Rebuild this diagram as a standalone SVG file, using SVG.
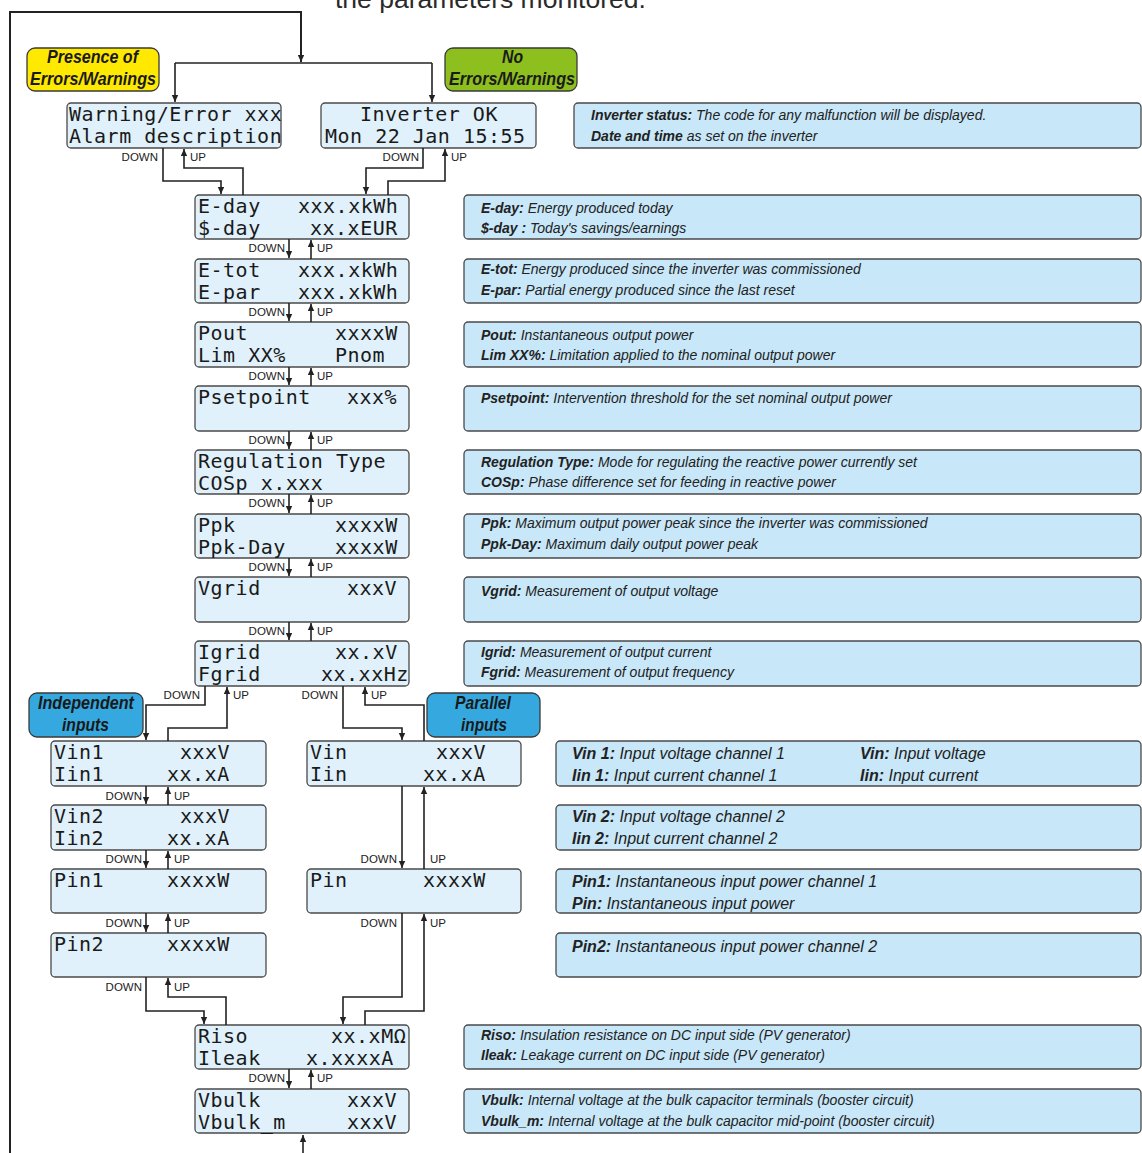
<svg xmlns="http://www.w3.org/2000/svg" width="1142" height="1153" viewBox="0 0 1142 1153">
<defs>
<style>
.lcd{fill:#e0f1fb;stroke:#4a4a4a;stroke-width:1.3}
.desc{fill:#c8e7f8;stroke:#4a4a4a;stroke-width:1.3}
.t{font-family:"DejaVu Sans Mono","Liberation Mono",monospace;font-size:20px;letter-spacing:0.5px;fill:#1a1a1a}
.d{font-family:"Liberation Sans",Arial,sans-serif;font-size:14px;font-style:italic;fill:#222}
.d2{font-family:"Liberation Sans",Arial,sans-serif;font-size:16px;font-style:italic;fill:#222}
.b{font-weight:bold}
.nav{font-family:"Liberation Sans",Arial,sans-serif;font-size:11.5px;fill:#222}
.lbl{font-family:"Liberation Sans",Arial,sans-serif;font-size:19px;font-weight:bold;font-style:italic;fill:#1a1a1a}
.c{fill:none;stroke:#222;stroke-width:1.6}
.ca{fill:none;stroke:#222;stroke-width:1.6;marker-end:url(#ah)}
</style>
<marker id="ah" markerWidth="8" markerHeight="8" refX="7" refY="4" orient="auto" markerUnits="userSpaceOnUse"><path d="M0,0.8 L7,4 L0,7.2 Z" fill="#222"/></marker>
</defs>
<rect width="1142" height="1153" fill="#ffffff"/>
<text x="335" y="8" style="font-family:'Liberation Sans',Arial,sans-serif;font-size:26.5px;fill:#2a2a2a">the parameters monitored.</text>

<!-- labels -->
<g id="lbl-errors">
<rect x="27" y="48" width="132" height="43" rx="8" fill="#ffe900" stroke="#3a3a3a" stroke-width="1.3"/>
<text class="lbl" x="47" y="63" textLength="91" lengthAdjust="spacingAndGlyphs">Presence of</text>
<text class="lbl" x="30" y="85" textLength="126" lengthAdjust="spacingAndGlyphs">Errors/Warnings</text>
</g>
<g id="lbl-noerrors">
<rect x="445" y="48" width="132" height="43" rx="8" fill="#8dbf1f" stroke="#3a3a3a" stroke-width="1.3"/>
<text class="lbl" x="502" y="63" textLength="21" lengthAdjust="spacingAndGlyphs">No</text>
<text class="lbl" x="449" y="85" textLength="126" lengthAdjust="spacingAndGlyphs">Errors/Warnings</text>
</g>
<g id="lbl-independent">
<rect x="29" y="693" width="114" height="44" rx="8" fill="#35a8e0" stroke="#3a3a3a" stroke-width="1.3"/>
<text class="lbl" x="38" y="709" textLength="96" lengthAdjust="spacingAndGlyphs">Independent</text>
<text class="lbl" x="62" y="731" textLength="47" lengthAdjust="spacingAndGlyphs">inputs</text>
</g>
<g id="lbl-parallel">
<rect x="427" y="693" width="113" height="44" rx="8" fill="#35a8e0" stroke="#3a3a3a" stroke-width="1.3"/>
<text class="lbl" x="455" y="709" textLength="56" lengthAdjust="spacingAndGlyphs">Parallel</text>
<text class="lbl" x="461" y="731" textLength="46" lengthAdjust="spacingAndGlyphs">inputs</text>
</g>

<!-- LCD nodes -->
<g id="n-warning">
<rect class="lcd" x="67" y="103" width="214" height="45" rx="4"/>
<text class="t" x="69" y="121">Warning/Error xxx</text>
<text class="t" x="69" y="143">Alarm description</text>
</g>
<g id="n-inverter">
<rect class="lcd" x="321" y="103" width="215" height="45" rx="4"/>
<text class="t" x="360" y="121">Inverter OK</text>
<text class="t" x="325" y="143">Mon 22 Jan 15:55</text>
</g>
<g id="n-eday">
<rect class="lcd" x="195" y="195" width="214" height="44" rx="4"/>
<text class="t" x="198" y="212.5">E-day</text><text class="t" x="298" y="212.5">xxx.xkWh</text>
<text class="t" x="198" y="234.5">$-day</text><text class="t" x="310" y="234.5">xx.xEUR</text>
</g>
<g id="n-etot">
<rect class="lcd" x="195" y="259" width="214" height="44" rx="4"/>
<text class="t" x="198" y="276.5">E-tot</text><text class="t" x="298" y="276.5">xxx.xkWh</text>
<text class="t" x="198" y="298.5">E-par</text><text class="t" x="298" y="298.5">xxx.xkWh</text>
</g>
<g id="n-pout">
<rect class="lcd" x="195" y="322" width="214" height="45" rx="4"/>
<text class="t" x="198" y="339.5">Pout</text><text class="t" x="335" y="339.5">xxxxW</text>
<text class="t" x="198" y="361.5">Lim XX%</text><text class="t" x="335" y="361.5">Pnom</text>
</g>
<g id="n-psetpoint">
<rect class="lcd" x="195" y="386" width="214" height="45" rx="4"/>
<text class="t" x="198" y="403.5">Psetpoint</text><text class="t" x="347" y="403.5">xxx%</text>
</g>
<g id="n-regulation">
<rect class="lcd" x="195" y="450" width="214" height="44" rx="4"/>
<text class="t" x="198" y="467.5">Regulation Type</text>
<text class="t" x="198" y="489.5">COSp x.xxx</text>
</g>
<g id="n-ppk">
<rect class="lcd" x="195" y="514" width="214" height="44" rx="4"/>
<text class="t" x="198" y="531.5">Ppk</text><text class="t" x="335" y="531.5">xxxxW</text>
<text class="t" x="198" y="553.5">Ppk-Day</text><text class="t" x="335" y="553.5">xxxxW</text>
</g>
<g id="n-vgrid">
<rect class="lcd" x="195" y="577" width="214" height="45" rx="4"/>
<text class="t" x="198" y="594.5">Vgrid</text><text class="t" x="347" y="594.5">xxxV</text>
</g>
<g id="n-igrid">
<rect class="lcd" x="195" y="641" width="214" height="45" rx="4"/>
<text class="t" x="198" y="658.5">Igrid</text><text class="t" x="335" y="658.5">xx.xV</text>
<text class="t" x="198" y="680.5">Fgrid</text><text class="t" x="321" y="680.5">xx.xxHz</text>
</g>
<g id="n-vin1">
<rect class="lcd" x="51" y="741" width="215" height="45" rx="4"/>
<text class="t" x="54" y="758.5">Vin1</text><text class="t" x="180" y="758.5">xxxV</text>
<text class="t" x="54" y="780.5">Iin1</text><text class="t" x="167" y="780.5">xx.xA</text>
</g>
<g id="n-vin2">
<rect class="lcd" x="51" y="805" width="215" height="45" rx="4"/>
<text class="t" x="54" y="822.5">Vin2</text><text class="t" x="180" y="822.5">xxxV</text>
<text class="t" x="54" y="844.5">Iin2</text><text class="t" x="167" y="844.5">xx.xA</text>
</g>
<g id="n-pin1">
<rect class="lcd" x="51" y="869" width="215" height="44" rx="4"/>
<text class="t" x="54" y="886.5">Pin1</text><text class="t" x="167" y="886.5">xxxxW</text>
</g>
<g id="n-pin2">
<rect class="lcd" x="51" y="933" width="215" height="44" rx="4"/>
<text class="t" x="54" y="950.5">Pin2</text><text class="t" x="167" y="950.5">xxxxW</text>
</g>
<g id="n-vin">
<rect class="lcd" x="307" y="741" width="214" height="45" rx="4"/>
<text class="t" x="310" y="758.5">Vin</text><text class="t" x="436" y="758.5">xxxV</text>
<text class="t" x="310" y="780.5">Iin</text><text class="t" x="423" y="780.5">xx.xA</text>
</g>
<g id="n-pin">
<rect class="lcd" x="307" y="869" width="214" height="44" rx="4"/>
<text class="t" x="310" y="886.5">Pin</text><text class="t" x="423" y="886.5">xxxxW</text>
</g>
<g id="n-riso">
<rect class="lcd" x="195" y="1025" width="214" height="44" rx="4"/>
<text class="t" x="198" y="1042.5">Riso</text><text class="t" x="331" y="1042.5">xx.xMΩ</text>
<text class="t" x="198" y="1064.5">Ileak</text><text class="t" x="306" y="1064.5">x.xxxxA</text>
</g>
<g id="n-vbulk">
<rect class="lcd" x="195" y="1089" width="214" height="44" rx="4"/>
<text class="t" x="198" y="1106.5">Vbulk</text><text class="t" x="347" y="1106.5">xxxV</text>
<text class="t" x="198" y="1128.5">Vbulk_m</text><text class="t" x="347" y="1128.5">xxxV</text>
</g>

<!-- description nodes -->
<g id="d-status">
<rect class="desc" x="574" y="103" width="567" height="45" rx="4"/>
<text class="d" x="591" y="120"><tspan class="b">Inverter status:</tspan> The code for any malfunction will be displayed.</text>
<text class="d" x="591" y="141"><tspan class="b">Date and time</tspan> as set on the inverter</text>
</g>
<g id="d-eday">
<rect class="desc" x="464" y="195" width="677" height="44" rx="4"/>
<text class="d" x="481" y="213"><tspan class="b">E-day:</tspan> Energy produced today</text>
<text class="d" x="481" y="233"><tspan class="b">$-day :</tspan> Today's savings/earnings</text>
</g>
<g id="d-etot">
<rect class="desc" x="464" y="259" width="677" height="44" rx="4"/>
<text class="d" x="481" y="274"><tspan class="b">E-tot:</tspan> Energy produced since the inverter was commissioned</text>
<text class="d" x="481" y="295"><tspan class="b">E-par:</tspan> Partial energy produced since the last reset</text>
</g>
<g id="d-pout">
<rect class="desc" x="464" y="322" width="677" height="45" rx="4"/>
<text class="d" x="481" y="340"><tspan class="b">Pout:</tspan> Instantaneous output power</text>
<text class="d" x="481" y="360"><tspan class="b">Lim XX%:</tspan> Limitation applied to the nominal output power</text>
</g>
<g id="d-psetpoint">
<rect class="desc" x="464" y="386" width="677" height="45" rx="4"/>
<text class="d" x="481" y="403"><tspan class="b">Psetpoint:</tspan> Intervention threshold for the set nominal output power</text>
</g>
<g id="d-regulation">
<rect class="desc" x="464" y="450" width="677" height="44" rx="4"/>
<text class="d" x="481" y="467"><tspan class="b">Regulation Type:</tspan> Mode for regulating the reactive power currently set</text>
<text class="d" x="481" y="487"><tspan class="b">COSp:</tspan> Phase difference set for feeding in reactive power</text>
</g>
<g id="d-ppk">
<rect class="desc" x="464" y="514" width="677" height="44" rx="4"/>
<text class="d" x="481" y="528"><tspan class="b">Ppk:</tspan> Maximum output power peak since the inverter was commissioned</text>
<text class="d" x="481" y="549"><tspan class="b">Ppk-Day:</tspan> Maximum daily output power peak</text>
</g>
<g id="d-vgrid">
<rect class="desc" x="464" y="577" width="677" height="45" rx="4"/>
<text class="d" x="481" y="596"><tspan class="b">Vgrid:</tspan> Measurement of output voltage</text>
</g>
<g id="d-igrid">
<rect class="desc" x="464" y="641" width="677" height="45" rx="4"/>
<text class="d" x="481" y="657"><tspan class="b">Igrid:</tspan> Measurement of output current</text>
<text class="d" x="481" y="677"><tspan class="b">Fgrid:</tspan> Measurement of output frequency</text>
</g>
<g id="d-vin">
<rect class="desc" x="556" y="741" width="585" height="45" rx="4"/>
<text class="d2" x="572" y="759"><tspan class="b">Vin 1:</tspan> Input voltage channel 1</text>
<text class="d2" x="572" y="781"><tspan class="b">Iin 1:</tspan> Input current channel 1</text>
<text class="d2" x="860" y="759"><tspan class="b">Vin:</tspan> Input voltage</text>
<text class="d2" x="860" y="781"><tspan class="b">Iin:</tspan> Input current</text>
</g>
<g id="d-vin2">
<rect class="desc" x="556" y="805" width="585" height="45" rx="4"/>
<text class="d2" x="572" y="822"><tspan class="b">Vin 2:</tspan> Input voltage channel 2</text>
<text class="d2" x="572" y="844"><tspan class="b">Iin 2:</tspan> Input current channel 2</text>
</g>
<g id="d-pin1">
<rect class="desc" x="556" y="869" width="585" height="44" rx="4"/>
<text class="d2" x="572" y="887"><tspan class="b">Pin1:</tspan> Instantaneous input power channel 1</text>
<text class="d2" x="572" y="909"><tspan class="b">Pin:</tspan> Instantaneous input power</text>
</g>
<g id="d-pin2">
<rect class="desc" x="556" y="933" width="585" height="44" rx="4"/>
<text class="d2" x="572" y="952"><tspan class="b">Pin2:</tspan> Instantaneous input power channel 2</text>
</g>
<g id="d-riso">
<rect class="desc" x="464" y="1025" width="677" height="44" rx="4"/>
<text class="d" x="481" y="1040"><tspan class="b">Riso:</tspan> Insulation resistance on DC input side (PV generator)</text>
<text class="d" x="481" y="1060"><tspan class="b">Ileak:</tspan> Leakage current on DC input side (PV generator)</text>
</g>
<g id="d-vbulk">
<rect class="desc" x="464" y="1089" width="677" height="44" rx="4"/>
<text class="d" x="481" y="1105"><tspan class="b">Vbulk:</tspan> Internal voltage at the bulk capacitor terminals (booster circuit)</text>
<text class="d" x="481" y="1126"><tspan class="b">Vbulk_m:</tspan> Internal voltage at the bulk capacitor mid-point (booster circuit)</text>
</g>

<!-- connectors -->
<g id="connectors">
<polyline class="ca" style="stroke-width:2" points="10,1153 10,12 301,12 301,62"/>
<polyline class="c" points="175,63 432,63"/>
<polyline class="ca" points="175,63 175,102"/>
<polyline class="ca" points="432,63 432,102"/>

<polyline class="ca" points="163,148 163,181 221,181 221,194"/>
<polyline class="ca" points="243,195 243,168 184,168 184,149"/>
<polyline class="ca" points="423,148 423,168 366,168 366,194"/>
<polyline class="ca" points="388,195 388,181 445,181 445,149"/>

<polyline class="ca" points="289,239 289,258"/><polyline class="ca" points="311,259 311,240"/>
<polyline class="ca" points="289,303 289,321"/><polyline class="ca" points="311,322 311,304"/>
<polyline class="ca" points="289,367 289,385"/><polyline class="ca" points="311,386 311,368"/>
<polyline class="ca" points="289,431 289,449"/><polyline class="ca" points="311,450 311,432"/>
<polyline class="ca" points="289,494 289,513"/><polyline class="ca" points="311,514 311,495"/>
<polyline class="ca" points="289,558 289,576"/><polyline class="ca" points="311,577 311,559"/>
<polyline class="ca" points="289,622 289,640"/><polyline class="ca" points="311,641 311,623"/>

<polyline class="ca" points="205,686 205,705 146,705 146,740"/>
<polyline class="ca" points="168,741 168,728 227,728 227,687"/>
<polyline class="ca" points="343,686 343,728 402,728 402,740"/>
<polyline class="ca" points="424,741 424,705 365,705 365,687"/>

<polyline class="ca" points="146,786 146,804"/><polyline class="ca" points="168,805 168,787"/>
<polyline class="ca" points="146,850 146,868"/><polyline class="ca" points="168,869 168,851"/>
<polyline class="ca" points="146,913 146,932"/><polyline class="ca" points="168,933 168,914"/>

<polyline class="ca" points="402,786 402,868"/><polyline class="ca" points="424,869 424,787"/>

<polyline class="ca" points="146,977 146,1011 204,1011 204,1024"/>
<polyline class="ca" points="226,1025 226,997 168,997 168,978"/>
<polyline class="ca" points="402,913 402,997 343,997 343,1024"/>
<polyline class="ca" points="365,1025 365,1011 424,1011 424,914"/>

<polyline class="ca" points="289,1069 289,1088"/><polyline class="ca" points="311,1089 311,1070"/>
<polyline class="ca" points="303,1153 303,1135"/>

<g class="nav">
<text x="158" y="161" text-anchor="end">DOWN</text><text x="190" y="161">UP</text>
<text x="419" y="161" text-anchor="end">DOWN</text><text x="451" y="161">UP</text>
<text x="285" y="252" text-anchor="end">DOWN</text><text x="317" y="252">UP</text>
<text x="285" y="316" text-anchor="end">DOWN</text><text x="317" y="316">UP</text>
<text x="285" y="380" text-anchor="end">DOWN</text><text x="317" y="380">UP</text>
<text x="285" y="444" text-anchor="end">DOWN</text><text x="317" y="444">UP</text>
<text x="285" y="507" text-anchor="end">DOWN</text><text x="317" y="507">UP</text>
<text x="285" y="571" text-anchor="end">DOWN</text><text x="317" y="571">UP</text>
<text x="285" y="635" text-anchor="end">DOWN</text><text x="317" y="635">UP</text>
<text x="200" y="699" text-anchor="end">DOWN</text><text x="233" y="699">UP</text>
<text x="338" y="699" text-anchor="end">DOWN</text><text x="371" y="699">UP</text>
<text x="142" y="800" text-anchor="end">DOWN</text><text x="174" y="800">UP</text>
<text x="142" y="863" text-anchor="end">DOWN</text><text x="174" y="863">UP</text>
<text x="142" y="927" text-anchor="end">DOWN</text><text x="174" y="927">UP</text>
<text x="142" y="991" text-anchor="end">DOWN</text><text x="174" y="991">UP</text>
<text x="397" y="863" text-anchor="end">DOWN</text><text x="430" y="863">UP</text>
<text x="397" y="927" text-anchor="end">DOWN</text><text x="430" y="927">UP</text>
<text x="285" y="1082" text-anchor="end">DOWN</text><text x="317" y="1082">UP</text>
</g>
</g>
</svg>
